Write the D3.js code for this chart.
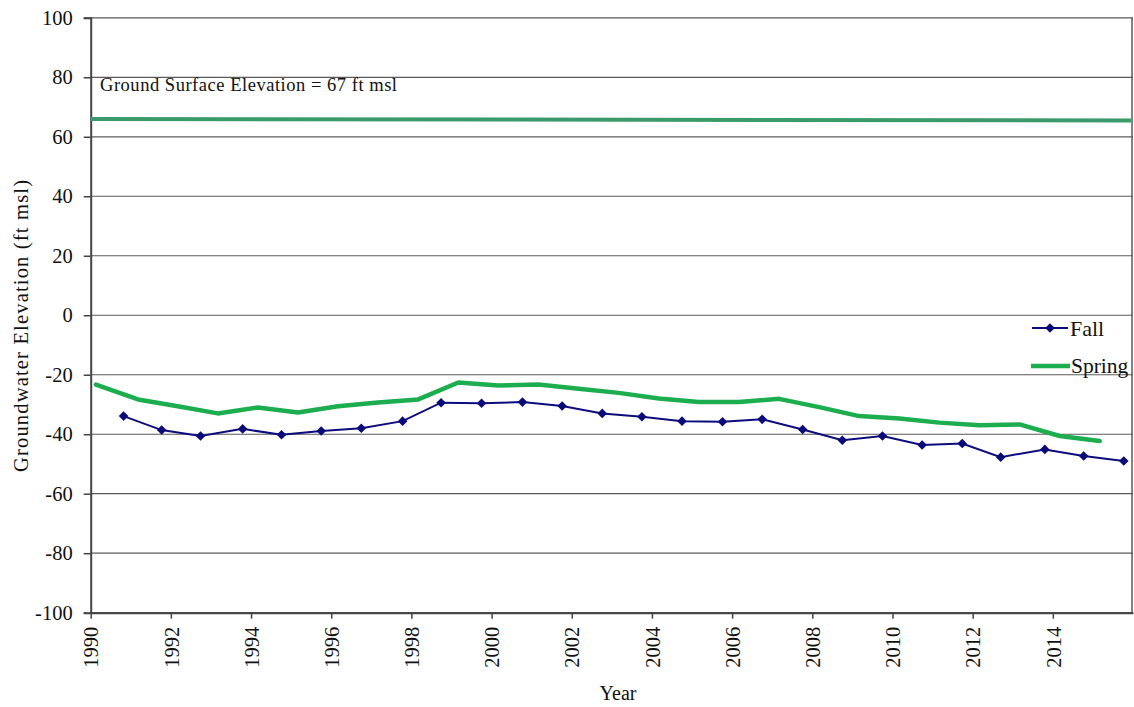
<!DOCTYPE html>
<html>
<head>
<meta charset="utf-8">
<script src="https://cdn.jsdelivr.net/npm/d3@7"></script>
<style>
  html, body { margin: 0; padding: 0; background: #fff; }
  svg { display: block; }
  svg text { font-family: "Liberation Serif", "Times New Roman", Times, "DejaVu Serif", serif !important; fill: #111; }
</style>
</head>
<body>
<svg id="chart" width="1134" height="707"></svg>
<script>
// Fall measurements (decimal year, ft msl)
const fallYears = [1990.82, 1991.77, 1992.74, 1993.79, 1994.76, 1995.75, 1996.75, 1997.78,
  1998.74, 1999.75, 2000.77, 2001.76, 2002.76, 2003.75, 2004.75, 2005.76, 2006.75,
  2007.76, 2008.75, 2009.75, 2010.74, 2011.74, 2012.70, 2013.80, 2014.77, 2015.77];
const fallValues = [-33.9, -38.6, -40.6, -38.2, -40.2, -38.9, -38.0, -35.6,
  -29.4, -29.6, -29.2, -30.5, -33.0, -34.1, -35.6, -35.8, -35.0,
  -38.4, -42.0, -40.6, -43.6, -43.1, -47.7, -45.1, -47.3, -49.0];

// Spring measurements (decimal year, ft msl)
const springYears = [1990.13, 1991.18, 1992.17, 1993.17, 1994.17, 1995.17, 1996.17, 1997.17,
  1998.17, 1999.17, 2000.17, 2001.17, 2002.17, 2003.17, 2004.17, 2005.17, 2006.17,
  2007.17, 2008.17, 2009.17, 2010.17, 2011.17, 2012.17, 2013.17, 2014.17, 2015.17];
const springValues = [-23.3, -28.3, -30.6, -33.0, -31.0, -32.7, -30.6, -29.3,
  -28.3, -22.6, -23.6, -23.3, -24.7, -26.1, -28.0, -29.2, -29.2,
  -28.1, -30.9, -33.9, -34.7, -36.1, -37.0, -36.7, -40.6, -42.3];

// Ground surface reference line
const groundYears = [1990.0, 2015.95];
const groundValues = [66.0, 65.5];

const xTickYears = d3.range(1990, 2015, 2);
const yTickValues = d3.range(-100, 101, 20);

const SERIF = '"Liberation Serif", "Times New Roman", Times, "DejaVu Serif", serif';

const svg = d3.select("#chart");
const margin = { left: 90.7, right: 1, top: 17.8, bottom: 94.3 };
const W = 1134, H = 707;

const x = d3.scaleLinear().domain([1990, 2016]).range([margin.left, W - margin.right]);
const y = d3.scaleLinear().domain([-100, 100]).range([H - margin.bottom, margin.top]);

// horizontal gridlines
svg.append("g")
  .selectAll("line")
  .data(yTickValues)
  .join("line")
  .attr("x1", x(1990)).attr("x2", x(2016))
  .attr("y1", d => y(d)).attr("y2", d => y(d))
  .attr("stroke", "#5a5a5a").attr("stroke-width", 1.2);

// right border of plot area
svg.append("line")
  .attr("x1", x(2016) - 1).attr("x2", x(2016) - 1)
  .attr("y1", y(100)).attr("y2", y(-100))
  .attr("stroke", "#5a5a5a").attr("stroke-width", 1.5);

// y axis
const yAxis = svg.append("g")
  .attr("transform", `translate(${x(1990)},0)`)
  .call(d3.axisLeft(y).tickValues(yTickValues).tickFormat(d => String(d)).tickSize(7).tickPadding(11))
  .attr("font-family", SERIF);
yAxis.select(".domain").attr("stroke", "#444").attr("stroke-width", 2);
yAxis.selectAll(".tick line").attr("stroke", "#444").attr("stroke-width", 1.5);
yAxis.selectAll(".tick text")
  .attr("font-family", SERIF)
  .attr("font-size", 20.5).attr("fill", "#111");

// x axis
const xAxis = svg.append("g")
  .attr("transform", `translate(0,${y(-100)})`)
  .call(d3.axisBottom(x).tickValues(xTickYears).tickFormat(d3.format("d")).tickSize(6).tickSizeOuter(0))
  .attr("font-family", SERIF);
xAxis.select(".domain").attr("stroke", "#444").attr("stroke-width", 2);
xAxis.selectAll(".tick line").attr("stroke", "#444").attr("stroke-width", 1.5);
xAxis.selectAll(".tick text")
  .attr("font-family", SERIF)
  .attr("font-size", 20.5).attr("fill", "#111")
  .attr("transform", "rotate(-90)")
  .attr("text-anchor", "end")
  .attr("x", -14).attr("y", 0).attr("dy", "0.35em");

// ground surface line
const groundData = groundYears.map((t, i) => ({ t, v: groundValues[i] }));
svg.append("path")
  .datum(groundData)
  .attr("fill", "none")
  .attr("stroke", "#3b9a6a")
  .attr("stroke-width", 4)
  .attr("d", d3.line().x(d => x(d.t)).y(d => y(d.v)));

svg.append("text")
  .attr("x", 100).attr("y", 91)
  .attr("font-family", SERIF)
  .attr("font-size", 18.5)
  .attr("textLength", 297)
  .attr("lengthAdjust", "spacing")
  .text("Ground Surface Elevation = 67 ft msl");

// spring series
const springData = springYears.map((t, i) => ({ t, v: springValues[i] }));
svg.append("path")
  .datum(springData)
  .attr("fill", "none")
  .attr("stroke", "#1cae4e")
  .attr("stroke-width", 4.5)
  .attr("stroke-linejoin", "round")
  .attr("stroke-linecap", "round")
  .attr("d", d3.line().x(d => x(d.t)).y(d => y(d.v)));

// fall series
const fallData = fallYears.map((t, i) => ({ t, v: fallValues[i] }));
svg.append("path")
  .datum(fallData)
  .attr("fill", "none")
  .attr("stroke", "#0c0c7c")
  .attr("stroke-width", 2)
  .attr("d", d3.line().x(d => x(d.t)).y(d => y(d.v)));

const diamond = d3.symbol().type(d3.symbolSquare).size(46);
svg.append("g")
  .selectAll("path")
  .data(fallData)
  .join("path")
  .attr("d", diamond)
  .attr("transform", d => `translate(${x(d.t)},${y(d.v)}) rotate(45)`)
  .attr("fill", "#0a0a78");

// legend
const lg = svg.append("g").attr("font-family", SERIF);
lg.append("line").attr("x1", 1032).attr("x2", 1068).attr("y1", 328).attr("y2", 328)
  .attr("stroke", "#0c0c7c").attr("stroke-width", 2);
lg.append("path").attr("d", diamond).attr("transform", "translate(1050,328) rotate(45)").attr("fill", "#0a0a78");
lg.append("text").attr("x", 1070).attr("y", 336).attr("font-size", 22).text("Fall");
lg.append("line").attr("x1", 1031).attr("x2", 1070).attr("y1", 366).attr("y2", 366)
  .attr("stroke", "#1cae4e").attr("stroke-width", 4.5);
lg.append("text").attr("x", 1071).attr("y", 373).attr("font-size", 21.5).text("Spring");

// axis titles
svg.append("text")
  .attr("transform", "translate(28,326) rotate(-90)")
  .attr("text-anchor", "middle")
  .attr("font-family", SERIF)
  .attr("font-size", 20.5)
  .attr("textLength", 292)
  .attr("lengthAdjust", "spacing")
  .text("Groundwater Elevation (ft msl)");

svg.append("text")
  .attr("x", 618).attr("y", 700)
  .attr("text-anchor", "middle")
  .attr("font-family", SERIF)
  .attr("font-size", 20)
  .text("Year");
</script>
</body>
</html>
